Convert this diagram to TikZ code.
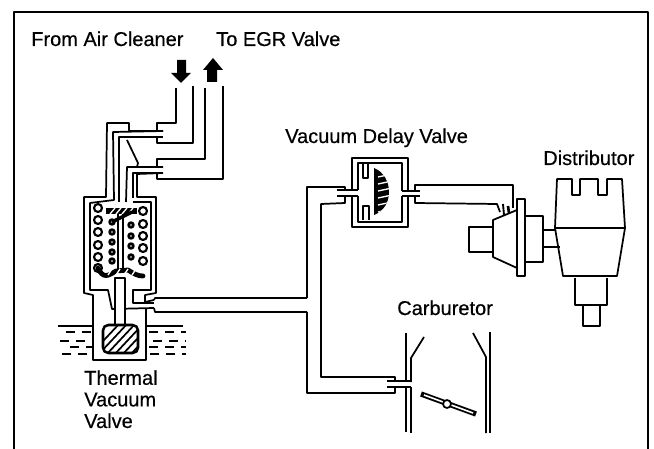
\documentclass[tikz,border=0pt]{standalone}
\usepackage{fontspec}
\setmainfont{Liberation Sans}[RawFeature={embolden=0.5}]
\usetikzlibrary{positioning, calc}

\begin{document}
\begin{tikzpicture}[
    x=0.75pt, y=-0.75pt,
    line join=round,
    pipe/.style={draw, line width=1.3pt},
    frameline/.style={draw, line width=1.6pt},
    bigarrow/.style={fill=black, draw=none},
    coil/.style={draw, circle, line width=1.6pt, minimum size=6pt, inner sep=0pt},
    smallcoil/.style={draw, circle, line width=2pt, minimum size=3.5pt, inner sep=0pt},
    textlabel/.style={font=\fontsize{15}{16.2}\selectfont, inner sep=0pt, align=left}
]
    \useasboundingbox (0,0) rectangle (654,449);

    % --- Frame ---
    \draw[frameline] (14,449) -- (14,12) -- (648,12) -- (648,449);

    % --- Labels ---
    \node[textlabel, anchor=base west] (aircleaner) at (31,46) {From Air Cleaner};
    \node[textlabel, anchor=base west] (egrvalve) at (216,46) {To EGR Valve};
    \node[textlabel, anchor=base west] (delaylabel) at (285,143) {Vacuum Delay Valve};
    \node[textlabel, anchor=base west] (distlabel) at (543,165) {Distributor};
    \node[textlabel, anchor=base west] (carblabel) at (397,315) {Carburetor};
    \node[textlabel, anchor=north west] (thermallabel) at (84,370) {Thermal\\Vacuum\\Valve};

    % --- Flow arrows ---
    \fill[bigarrow] (177,60) -- (186,60) -- (186,73) -- (191,73) -- (181,83) -- (171,73) -- (177,73) -- cycle;
    \fill[bigarrow] (207,82) -- (217,82) -- (217,70) -- (223,70) -- (213,58) -- (203,70) -- (207,70) -- cycle;

    % --- Hoses to air cleaner and EGR valve ---
    \draw[pipe] (176,88) -- (176,123) -- (157,123) -- (157,131);
    \draw[pipe] (193,86) -- (193,143) -- (157,143) -- (157,137);
    \draw[pipe] (205,88) -- (205,159) -- (157,159) -- (157,167);
    \draw[pipe] (223,86) -- (223,179) -- (157,179) -- (157,173);

    % --- Thermal Vacuum Valve, outer body ---
    \draw[pipe] (163,131) -- (129,131) -- (129,123) -- (107,123) -- (106,197) -- (84,197)
        -- (84,293) -- (93,295) -- (93,360) -- (146,360) -- (146,309);
    \draw[pipe] (163,173) -- (137,174) -- (137,197) -- (156,197) -- (156,293) -- (145,295)
        -- (145,302) -- (154,300);

    % --- Thermal Vacuum Valve, inner passages ---
    \draw[pipe] (163,131) -- (113,132) -- (114,200) -- (90,203) -- (90,290) -- (108,290)
        -- (112,309) -- (154,308);
    \draw[pipe] (163,137) -- (119,137) -- (119,202);
    \draw[pipe] (163,167) -- (127,167) -- (126,202);
    \draw[pipe] (127,140) -- (138,163) -- (137,167);
    \draw[pipe] (163,173) -- (133,173) -- (133,198);
    \draw[pipe] (133,202) -- (151,202) -- (151,290) -- (133,290) -- (133,303) -- (154,303);

    % --- Return coils ---
    \foreach \cy in {208,220,232,245,257,268} \node[coil] (coilA\cy) at (98,\cy) {};
    \foreach \cy in {211,224,236,248,261} \node[coil] (coilD\cy) at (143,\cy) {};
    \foreach \cy in {222,232,242,252,261} \node[smallcoil] (coilB\cy) at (112,\cy) {};
    \foreach \cy in {225,236,246,257} \node[smallcoil] (coilC\cy) at (131,\cy) {};

    % --- Plates and stem ---
    \draw[line width=4pt, rounded corners=2pt] (106,211) -- (137,211);
    \foreach \hx in {110,116,122,128} \draw[white, line width=1pt] (\hx,214) -- (\hx+5,208);
    \draw[line width=2.6pt] (112,222) -- (132,212);
    \draw[line width=1.2pt] (118,214) -- (118,270);
    \draw[line width=1.2pt] (123,214) -- (123,270);
    \draw[line width=3.6pt, line cap=round] (98,268) .. controls (103,279) and (108,276) .. (116,271)
        -- (128,270) .. controls (134,274) and (138,276) .. (143,276);
    \foreach \hx in {108,116,124,132} \draw[white, line width=1pt] (\hx,275) -- (\hx+4,269);
    \draw[line width=1.3pt, fill=white] (115,278) rectangle (125,325);

    % --- Sensing bulb ---
    \begin{scope}
        \clip[rounded corners=4pt] (103,325) rectangle (138,353);
        \foreach \hx in {90,98,...,146} \draw[line width=1.3pt] (\hx,355) -- (\hx+30,323);
    \end{scope}
    \draw[line width=1.9pt, rounded corners=4pt] (103,325) rectangle (138,353);

    % --- Coolant ---
    \draw[line width=1.2pt] (58,326) -- (93,326);
    \draw[line width=1.2pt] (146,326) -- (183,326);
    \foreach \dy/\dx in {332/66,341/60,347/70,354/62}
        \draw[line width=1.2pt, dash pattern=on 7pt off 5pt] (\dx,\dy) -- (92,\dy);
    \foreach \dy/\dx in {332/149,341/153,347/149,354/150}
        \draw[line width=1.2pt, dash pattern=on 7pt off 5pt] (\dx,\dy) -- (186,\dy);

    % --- Hose from thermal valve ---
    \draw[pipe] (154,300) -- (155,298) -- (307,298);
    \draw[pipe] (154,308) -- (155,312) -- (307,312);

    % --- Vacuum Delay Valve ---
    \draw[pipe] (352,190) -- (352,158) -- (408,158) -- (408,191);
    \draw[pipe] (352,196) -- (352,227) -- (408,227) -- (408,196);
    \draw[pipe] (358,190) -- (358,163) -- (402,163) -- (402,191);
    \draw[pipe] (358,196) -- (358,222) -- (402,222) -- (402,196);
    \draw[pipe] (363,164) -- (363,178) -- (368,178) -- (368,164);
    \draw[pipe] (363,220) -- (363,206) -- (369,206) -- (369,220);
    \begin{scope}
        \clip (374,168) .. controls (384,172) and (389,182) .. (389,192)
            .. controls (389,202) and (384,211) .. (374,215) -- cycle;
        \fill (370,165) rectangle (392,218);
        \foreach \sy in {177,184,...,212} \draw[white, line width=1pt] (378,\sy) -- (392,\sy-3);
    \end{scope}
    \draw[pipe] (337,190) -- (358,190);
    \draw[pipe] (337,196) -- (358,196);
    \draw[pipe] (402,191) -- (420,191);
    \draw[pipe] (402,196) -- (420,196);

    % --- Hoses at delay valve and carburetor ---
    \draw[pipe] (345,190) -- (345,187) -- (307,187) -- (307,298);
    \draw[pipe] (345,196) -- (345,203) -- (321,204) -- (321,377) -- (395,377) -- (395,381);
    \draw[pipe] (307,312) -- (307,393) -- (395,393) -- (395,387);
    \draw[pipe] (415,191) -- (415,185) -- (513,185) -- (513,208);
    \draw[pipe] (415,196) -- (415,203) -- (497,204) -- (500,212);

    % --- Advance unit ---
    \draw[line width=1.4pt] (503,204) -- (504,215);
    \draw[line width=2pt] (508,206) -- (509,213);
    \draw[pipe] (469,227) rectangle (493,252);
    \draw[pipe, fill=white] (493,220) -- (517,210) -- (517,268) -- (493,257) -- cycle;
    \draw[pipe, fill=white] (517,199) rectangle (525,276);
    \draw[pipe] (525,216) rectangle (543,262);
    \draw[pipe] (543,230) -- (556,230);
    \draw[pipe] (543,247) -- (560,247);

    % --- Distributor ---
    \draw[pipe] (555,228) -- (557,179) -- (572,179) -- (572,195) -- (580,195) -- (580,179)
        -- (598,179) -- (598,195) -- (607,195) -- (607,179) -- (622,179) -- (625,228) -- cycle;
    \draw[pipe] (555,228) -- (563,276) -- (617,276) -- (625,228);
    \draw[pipe] (575,278) -- (575,305) -- (607,305) -- (607,278);
    \draw[pipe] (583,305) -- (583,326) -- (600,326) -- (600,305);

    % --- Carburetor ---
    \draw[pipe] (406,333) -- (406,381);
    \draw[pipe] (406,387) -- (406,432);
    \draw[pipe] (424,337) -- (411,358) -- (411,382);
    \draw[pipe] (411,387) -- (411,433);
    \draw[pipe] (473,333) -- (486,357) -- (486,433);
    \draw[pipe] (490,332) -- (490,433);
    \draw[pipe] (387,381) -- (411,381);
    \draw[pipe] (387,387) -- (411,387);

    % --- Throttle plate ---
    \draw[line width=4pt] (421,394) -- (476,414);
    \draw[white, line width=1.2pt] (424,395) -- (473,413);
    \node[draw, circle, fill=white, line width=1.3pt, minimum size=6pt, inner sep=0pt] (throttle) at (447,404) {};
\end{tikzpicture}
\end{document}
